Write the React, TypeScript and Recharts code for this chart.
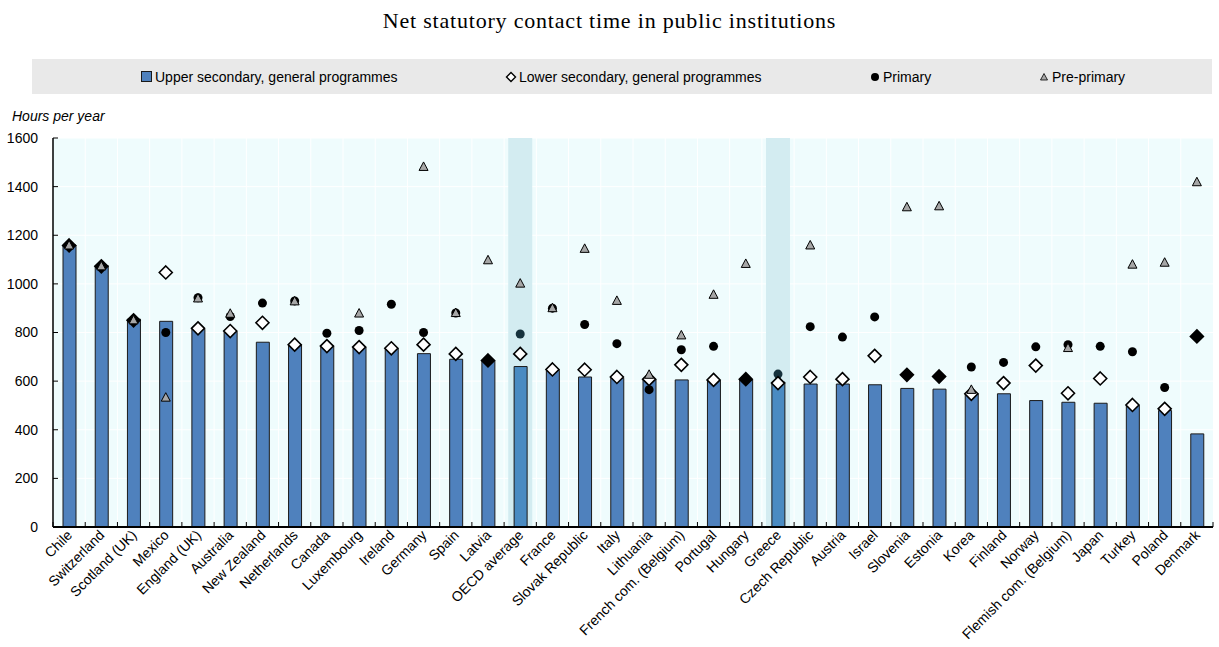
import React from 'react'
import {
  ComposedChart,
  Bar,
  Scatter,
  XAxis,
  YAxis,
  CartesianGrid,
  ReferenceArea,
  Cell,
} from 'recharts'

const countries = [
  'Chile', 'Switzerland', 'Scotland (UK)', 'Mexico', 'England (UK)', 'Australia',
  'New Zealand', 'Netherlands', 'Canada', 'Luxembourg', 'Ireland', 'Germany',
  'Spain', 'Latvia', 'OECD average', 'France', 'Slovak Republic', 'Italy',
  'Lithuania', 'French com. (Belgium)', 'Portugal', 'Hungary', 'Greece', 'Czech Republic',
  'Austria', 'Israel', 'Slovenia', 'Estonia', 'Korea', 'Finland',
  'Norway', 'Flemish com. (Belgium)', 'Japan', 'Turkey', 'Poland', 'Denmark',
]

const upperSecondary = [
  1160, 1075, 855, 846, 814, 804,
  760, 750, 744, 740, 735, 713,
  690, 685, 660, 645, 617, 612,
  608, 605, 603, 605, 596, 588,
  588, 585, 570, 567, 548, 548,
  520, 513, 509, 500, 479, 383,
]

const lowerSecondary = [
  1158, 1072, 850, 1047, 817, 806,
  840, 750, 744, 740, 735, 750,
  712, 685, 712, 648, 647, 617,
  608, 667, 605, 608, 592, 617,
  608, 704, 626, 619, 548, 592,
  664, 550, 611, 502, 486, 784,
]

const primary = [
  1158, 1072, 850, 800, 943, 866,
  921, 930, 797, 808, 916, 800,
  880, 685, 794, 900, 833, 754,
  565, 729, 743, 608, 629, 824,
  781, 864, 626, 619, 658, 677,
  741, 750, 743, 721, 574, 784,
]

const prePrimary = [
  1158, 1072, 850, 532, 940, 877,
  null, 928, null, 878, null, 1481,
  880, 1097, 1001, 900, 1144, 930,
  626, 788, 955, 1082, null, 1158,
  null, null, 1315, 1319, 564, null,
  null, 736, null, 1079, 1087, 1418,
]

const highlighted = ['OECD average', 'Greece']
const yTicks = [0, 200, 400, 600, 800, 1000, 1200, 1400, 1600]

const data = countries.map((name, i) => ({
  name,
  upper: upperSecondary[i],
  lower: lowerSecondary[i],
  primary: primary[i],
  pre: prePrimary[i],
}))

const W = 1219
const H = 647
const MARGIN = { top: 138, right: 6, bottom: 0, left: 0 }
const Y_AXIS_W = 53
const PLOT_W = W - MARGIN.left - MARGIN.right - Y_AXIS_W
const FONT = '"Liberation Sans", Arial, sans-serif'
const BAR_BLUE = '#4f81bd'
const BAR_HL = '#4a8bc2'

const XTick = (props: any) => {
  const { x, y, payload, index } = props
  const step = PLOT_W / countries.length
  return (
    <g>
      <line x1={x - step / 2} x2={x - step / 2} y1={y} y2={y - 5} stroke="#000" strokeWidth={1} />
      {index === countries.length - 1 && (
        <line x1={x + step / 2} x2={x + step / 2} y1={y} y2={y - 5} stroke="#000" strokeWidth={1} />
      )}
      <text
        x={x + 4}
        y={y + 9}
        transform={`rotate(-45, ${x + 4}, ${y + 9})`}
        textAnchor="end"
        fontSize={14}
        fontFamily={FONT}
        fill="#000"
      >
        {payload.value}
      </text>
    </g>
  )
}

const YTick = (props: any) => {
  const { x, y, payload } = props
  return (
    <g>
      <line x1={x} x2={x + 5} y1={y} y2={y} stroke="#000" strokeWidth={1} />
      <text x={x - 15} y={y} dy="0.35em" textAnchor="end" fontSize={14} fontFamily={FONT} fill="#000">
        {payload.value}
      </text>
    </g>
  )
}

const Highlight = (props: any) => {
  const { x, y, width, height } = props
  const w = 24
  return <rect x={x + (width - w) / 2} y={y} width={w} height={height} fill="#d3ecf1" />
}

const DiamondShape = (props: any) => {
  const { cx, cy, payload } = props
  if (payload.lower == null || !Number.isFinite(cy)) return <g />
  const r = 6.5
  const solid = payload.lower === payload.primary
  return (
    <path
      d={`M${cx},${cy - r}L${cx + r},${cy}L${cx},${cy + r}L${cx - r},${cy}Z`}
      fill={solid ? '#000' : '#fff'}
      stroke="#000"
      strokeWidth={1.6}
    />
  )
}

const DotShape = (props: any) => {
  const { cx, cy, payload } = props
  if (payload.primary == null || !Number.isFinite(cy)) return <g />
  const hl = highlighted.includes(payload.name)
  return <circle cx={cx} cy={cy} r={4.5} fill={hl ? '#16323d' : '#000'} />
}

const TriangleShape = (props: any) => {
  const { cx, cy, payload } = props
  if (payload.pre == null || !Number.isFinite(cy)) return <g />
  return (
    <path
      d={`M${cx},${cy - 5}L${cx + 4.5},${cy + 3.5}L${cx - 4.5},${cy + 3.5}Z`}
      fill="#a6a6a6"
      stroke="#000"
      strokeWidth={1}
    />
  )
}

const legendItems = [
  { label: 'Upper secondary, general programmes', left: 141, marker: 'bar' },
  { label: 'Lower secondary, general programmes', left: 505, marker: 'diamond' },
  { label: 'Primary', left: 869, marker: 'dot' },
  { label: 'Pre-primary', left: 1038, marker: 'triangle' },
]

const LegendMarker = ({ type }: { type: string }) => (
  <svg width={12} height={12} style={{ display: 'block' }}>
    {type === 'bar' && <rect x={0.5} y={0.5} width={10} height={10} fill={BAR_BLUE} stroke="#1a1a1a" />}
    {type === 'diamond' && <path d="M6,1.5L10.5,6L6,10.5L1.5,6Z" fill="#fff" stroke="#000" strokeWidth={1.4} />}
    {type === 'dot' && <circle cx={6} cy={6} r={4} fill="#000" />}
    {type === 'triangle' && <path d="M6,2.5L9.5,9L2.5,9Z" fill="#a6a6a6" stroke="#000" strokeWidth={0.8} />}
  </svg>
)

export default function App() {
  return (
    <div style={{ position: 'absolute', left: 0, top: 0, width: W, height: H, background: '#fff', fontFamily: FONT }}>
      <div
        style={{
          position: 'absolute',
          left: 0,
          top: 8,
          width: W,
          textAlign: 'center',
          fontFamily: '"Liberation Serif", "Times New Roman", serif',
          fontSize: 22,
          letterSpacing: 0.8,
          color: '#000',
        }}
      >
        Net statutory contact time in public institutions
      </div>
      <div style={{ position: 'absolute', left: 32, top: 59, width: 1180, height: 35, background: '#e9e9e9' }}>
        {legendItems.map((item) => (
          <div
            key={item.label}
            style={{
              position: 'absolute',
              left: item.left - 32,
              top: 0,
              height: 35,
              display: 'flex',
              alignItems: 'center',
              gap: 2,
              fontSize: 14,
              color: '#000',
              whiteSpace: 'nowrap',
            }}
          >
            <LegendMarker type={item.marker} />
            <span>{item.label}</span>
          </div>
        ))}
      </div>
      <div style={{ position: 'absolute', left: 12, top: 108, fontSize: 14, fontStyle: 'italic', color: '#000' }}>
        Hours per year
      </div>
      <div style={{ position: 'absolute', left: 0, top: 0 }}>
        <ComposedChart width={W} height={H} data={data} margin={MARGIN}>
          <CartesianGrid
            fill="#effcfd"
            fillOpacity={1}
            stroke="#ffffff"
            strokeWidth={1}
            verticalCoordinatesGenerator={({ offset }: any) =>
              countries.slice(1).map((_, i) => offset.left + ((i + 1) * offset.width) / countries.length)
            }
          />
          {highlighted.map((name) => (
            <ReferenceArea key={name} x1={name} x2={name} y1={0} y2={1600} shape={Highlight} ifOverflow="visible" />
          ))}
          <XAxis
            dataKey="name"
            height={120}
            interval={0}
            tickLine={false}
            tickSize={0}
            tickMargin={0}
            axisLine={{ stroke: '#000', strokeWidth: 2 }}
            tick={<XTick />}
          />
          <XAxis xAxisId="top" dataKey="name" orientation="top" height={0} tick={false} tickLine={false} axisLine={{ stroke: '#555', strokeWidth: 1.5 }} />
          <YAxis
            domain={[0, 1600]}
            ticks={yTicks}
            interval={0}
            width={Y_AXIS_W}
            tickLine={false}
            tickSize={0}
            tickMargin={0}
            axisLine={{ stroke: '#000', strokeWidth: 1.5 }}
            tick={<YTick />}
          />
          <YAxis yAxisId="right" orientation="right" domain={[0, 1600]} width={0} tick={false} tickLine={false} axisLine={{ stroke: '#555', strokeWidth: 1.5 }} />
          <Bar dataKey="upper" barSize={13} stroke="#1a1a1a" strokeWidth={1} isAnimationActive={false}>
            {data.map((d) => (
              <Cell key={d.name} fill={highlighted.includes(d.name) ? BAR_HL : BAR_BLUE} />
            ))}
          </Bar>
          <Scatter dataKey="primary" shape={DotShape} isAnimationActive={false} />
          <Scatter dataKey="lower" shape={DiamondShape} isAnimationActive={false} />
          <Scatter dataKey="pre" shape={TriangleShape} isAnimationActive={false} />
        </ComposedChart>
      </div>
    </div>
  )
}
